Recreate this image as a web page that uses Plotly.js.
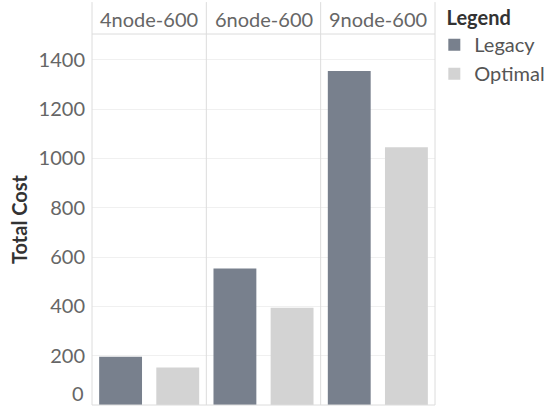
<!DOCTYPE html>
<html>
<head>
<meta charset="utf-8">
<script src="https://cdn.plot.ly/plotly-3.0.1.min.js"></script>
<style>html,body{margin:0;padding:0;background:#fff;}#chart{width:555px;height:409px;}</style>
</head>
<body>
<div id="chart"></div>
<script>
// ---- data ----
const panels = ['4node-600', '6node-600', '9node-600'];
const seriesNames = ['Legacy', 'Optimal'];
const legacy = [196, 554, 1355];
const optimal = [152, 394, 1046];
const yTickVals = [200, 400, 600, 800, 1000, 1200, 1400];
const zeroLabel = '0';

const colors = {Legacy: '#78808d', Optimal: '#d3d3d3'};
const FONT = 'Lato, "Open Sans", sans-serif';
const FS = 20;
const seriesValues = {Legacy: legacy, Optimal: optimal};

const traces = [];
panels.forEach((p, i) => {
  const ax = i === 0 ? 'x' : 'x' + (i + 1);
  seriesNames.forEach(s => {
    traces.push({
      type: 'bar',
      x: [s],
      y: [seriesValues[s][i]],
      name: s,
      xaxis: ax,
      yaxis: 'y',
      legendgroup: s,
      showlegend: i === 0,
      marker: {color: colors[s], line: {width: 0}},
      hoverinfo: 'none'
    });
  });
});

const layout = {
  width: 555, height: 409,
  margin: {l: 92, r: 120, t: 34, b: 4, autoexpand: false},
  paper_bgcolor: '#fff', plot_bgcolor: '#fff',
  barmode: 'overlay',
  bargap: 0.25,
  font: {family: FONT, size: FS, color: '#666'},
  showlegend: true,
  legend: {
    x: 0.998, xanchor: 'left', y: 1.094, yanchor: 'top',
    title: {text: '&nbsp;&nbsp;<b>Legend</b>', font: {size: FS, color: '#333', family: FONT}},
    font: {size: FS, color: '#555', family: FONT},
    itemwidth: 30,
    traceorder: 'normal',
    bgcolor: 'rgba(0,0,0,0)'
  },
  yaxis: {
    range: [0, 1505],
    tickvals: yTickVals,
    ticks: '',
    showgrid: true, gridcolor: '#f0f0f0', gridwidth: 1,
    zeroline: false, showline: false,
    tickfont: {size: FS, color: '#666', family: FONT},
    ticklabelstandoff: 6,
    title: {text: '<b>Total Cost</b>', font: {size: FS, color: '#333', family: FONT}, standoff: 5},
    fixedrange: true
  },
  shapes: [],
  annotations: []
};

panels.forEach((p, i) => {
  const key = i === 0 ? 'xaxis' : 'xaxis' + (i + 1);
  layout[key] = {
    domain: [i / 3, (i + 1) / 3],
    type: 'category',
    categoryarray: seriesNames,
    categoryorder: 'array',
    range: [-0.5, 1.5],
    showticklabels: false, ticks: '',
    showgrid: false, zeroline: false, showline: false,
    fixedrange: true,
    anchor: 'y'
  };
  layout.annotations.push({
    text: p, xref: 'paper', yref: 'paper',
    x: (i + 0.5) / 3, y: 1, yshift: 15, xanchor: 'center', yanchor: 'middle',
    showarrow: false, font: {size: FS, color: '#666', family: FONT}
  });
});

// zero label, placed inside the pane like the reference
layout.annotations.push({
  text: zeroLabel, xref: 'paper', yref: 'y', x: 0, y: 0, xanchor: 'right', yanchor: 'middle',
  xshift: -6, yshift: 12, showarrow: false, font: {size: FS, color: '#666', family: FONT}
});

// panel borders
const lineCol = '#dcdcdc';
[0, 1 / 3, 2 / 3, 1].forEach(x => {
  layout.shapes.push({type: 'line', xref: 'paper', yref: 'paper', x0: x, x1: x, y0: 0, y1: 1.086,
    line: {color: lineCol, width: 1}});
});
layout.shapes.push({type: 'line', xref: 'paper', yref: 'paper', x0: 0, x1: 1, y0: 1, y1: 1, line: {color: lineCol, width: 1}});
layout.shapes.push({type: 'line', xref: 'paper', yref: 'paper', x0: 0, x1: 1, y0: 0, y1: 0, line: {color: lineCol, width: 1}});

Plotly.newPlot('chart', traces, layout, {displayModeBar: false, staticPlot: true});
</script>
</body>
</html>
